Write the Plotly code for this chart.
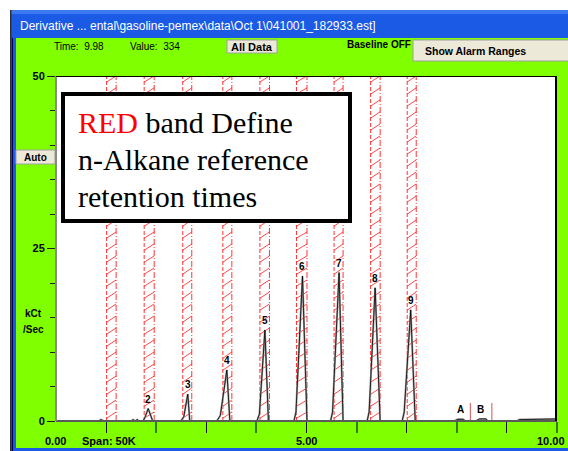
import plotly.graph_objects as go

W, H = 568, 451
GREEN = '#80FF00'
BLUE = '#1A5AE4'
BTN = '#ECE9D8'

# ---------------- data ----------------
band_lo = [1.01, 1.76, 2.53, 3.33, 4.07, 4.80, 5.55, 6.28, 7.01]
band_hi = [1.20, 1.96, 2.71, 3.51, 4.26, 5.01, 5.73, 6.47, 7.19]

trace_time = [0.00, 0.85, 0.90, 0.95, 1.50, 1.54, 1.58, 1.62, 1.66,
              1.74, 1.78, 1.84, 1.93,
              2.49, 2.55, 2.63, 2.67,
              3.21, 3.28, 3.41, 3.47,
              4.01, 4.06, 4.17, 4.24,
              4.75, 4.79, 4.92, 5.01,
              5.48, 5.52, 5.65, 5.73,
              6.21, 6.25, 6.37, 6.47,
              6.91, 6.95, 7.08, 7.17,
              7.95, 8.02, 8.12, 8.18, 8.38, 8.45, 8.58, 8.62,
              9.20, 9.25, 9.60, 9.70, 10.0]
trace_signal = [0, 0, 0.2, 0, 0, 0.2, 0, 0.2, 0,
                0, 0.6, 1.8, 0,
                0, 0.6, 3.9, 0,
                0, 0.8, 7.4, 0,
                0, 1.0, 13.2, 0,
                0, 1.3, 21.0, 0,
                0, 1.3, 21.5, 0,
                0, 1.3, 19.3, 0,
                0, 1.3, 16.1, 0,
                0, 0.25, 0.25, 0, 0, 0.3, 0.3, 0,
                0, 0.2, 0.2, 0.3, 0.3]

peak_labels = ['2', '3', '4', '5', '6', '7', '8', '9']
peak_time = [1.84, 2.63, 3.41, 4.17, 4.92, 5.65, 6.37, 7.08]
peak_height = [1.8, 3.9, 7.4, 13.2, 21.0, 21.5, 19.3, 16.1]

alarm_labels = ['A', 'B']
alarm_label_time = [8.07, 8.48]
alarm_line_time = [8.27, 8.70]
alarm_line_height = 2.6

y_tickvals = [0, 25, 50]
y_ticktext = ['0', '25', '50']
x_label_vals = [0, 5]
x_label_text = ['0.00', '5.00']
x_last_label = '10.00'

title_text = 'Derivative ... ental\\gasoline-pemex\\data\\Oct 1\\041001_182933.est]'


def px(x):
    return x / W


def py(y):
    return 1 - y / H


fig = go.Figure()

# red reference bands
lx, ly, rx, ry, hx, hy = [], [], [], [], [], []
for lo, hi in zip(band_lo, band_hi):
    lx += [lo, lo, None]
    ly += [0, 50, None]
    rx += [hi, hi, None]
    ry += [0, 50, None]
    y = 0.4
    while y < 49.2:
        hx += [lo, hi, None]
        hy += [y, y + 0.9, None]
        y += 1.74
fig.add_trace(go.Scatter(x=hx, y=hy, mode='lines', hoverinfo='skip',
                         line=dict(color='rgba(255,40,40,0.85)', width=1)))
fig.add_trace(go.Scatter(x=lx, y=ly, mode='lines', hoverinfo='skip',
                         line=dict(color='rgba(255,30,30,0.9)', width=1, dash='4px,2px')))
fig.add_trace(go.Scatter(x=rx, y=ry, mode='lines', hoverinfo='skip',
                         line=dict(color='rgba(255,30,30,0.9)', width=1, dash='6px,2px,1px,2px')))

# alarm range markers
ax_, ay_ = [], []
for t in alarm_line_time:
    ax_ += [t, t, None]
    ay_ += [0, alarm_line_height, None]
fig.add_trace(go.Scatter(x=ax_, y=ay_, mode='lines', hoverinfo='skip',
                         line=dict(color='#D05050', width=1)))

# chromatogram
fig.add_trace(go.Scatter(x=trace_time, y=trace_signal, mode='lines',
                         line=dict(color='#A0A0A0', width=2), hoverinfo='skip'))
fig.add_trace(go.Scatter(x=trace_time, y=trace_signal, mode='lines',
                         line=dict(color='#000000', width=0.8)))

shapes = []
# white outside + window frame
shapes.append(dict(type='rect', xref='paper', yref='paper', x0=0, x1=1, y0=py(10), y1=1,
                   fillcolor='white', line_width=0, layer='below'))
shapes.append(dict(type='rect', xref='paper', yref='paper', x0=px(10), x1=1, y0=py(38), y1=py(10),
                   fillcolor=BLUE, line_width=0, layer='below'))
shapes.append(dict(type='rect', xref='paper', yref='paper', x0=px(10), x1=1, y0=py(14), y1=py(10),
                   fillcolor='#3C78F0', line_width=0, layer='below'))
shapes.append(dict(type='rect', xref='paper', yref='paper', x0=px(10), x1=px(11.5), y0=0, y1=py(10),
                   fillcolor='#303030', line_width=0, layer='below'))
shapes.append(dict(type='rect', xref='paper', yref='paper', x0=px(11.5), x1=px(13), y0=0, y1=py(38),
                   fillcolor='#000060', line_width=0, layer='below'))
shapes.append(dict(type='rect', xref='paper', yref='paper', x0=px(13), x1=px(16), y0=0, y1=py(38),
                   fillcolor=BLUE, line_width=0, layer='below'))
shapes.append(dict(type='rect', xref='paper', yref='paper', x0=px(13), x1=1, y0=0, y1=py(448),
                   fillcolor=BLUE, line_width=0, layer='below'))
shapes.append(dict(type='rect', xref='paper', yref='paper', x0=0, x1=px(10), y0=0, y1=py(10),
                   fillcolor='white', line_width=0, layer='below'))
# buttons
for (x0, y0, x1, y1) in [(227, 40, 277, 53), (413, 40, 570, 61), (16, 150, 55, 164)]:
    shapes.append(dict(type='rect', xref='paper', yref='paper', x0=px(x0), x1=px(x1), y0=py(y1), y1=py(y0),
                       fillcolor=BTN, line=dict(color='#A0A0A0', width=1), layer='below'))
# plot borders
shapes.append(dict(type='line', xref='paper', yref='paper', x0=px(56), x1=px(557), y0=py(421), y1=py(421),
                   line=dict(color='#5A5A5A', width=2)))
shapes.append(dict(type='line', xref='paper', yref='paper', x0=px(56), x1=px(56), y0=py(421), y1=py(76),
                   line=dict(color='#8A8A8A', width=2)))
shapes.append(dict(type='line', xref='paper', yref='paper', x0=px(56), x1=px(557), y0=py(76.5), y1=py(76.5),
                   line=dict(color='#000000', width=1)))
shapes.append(dict(type='line', xref='paper', yref='paper', x0=px(556), x1=px(556), y0=py(421), y1=py(76),
                   line=dict(color='#000000', width=2)))
# annotation box
shapes.append(dict(type='rect', xref='paper', yref='paper', x0=px(63), x1=px(350), y0=py(221), y1=py(94),
                   fillcolor='white', line=dict(color='black', width=4), layer='above'))
fig.update_layout(shapes=shapes)

ann = []
ui = 'Liberation Sans'
ann.append(dict(text=title_text, x=px(18), y=py(26), xref='paper', yref='paper', xanchor='left',
                yanchor='middle', showarrow=False, font=dict(family=ui, size=12, color='white')))
ann.append(dict(text='Time:  9.98', x=px(52), y=py(46), xref='paper', yref='paper', xanchor='left',
                yanchor='middle', showarrow=False, font=dict(family=ui, size=10, color='black')))
ann.append(dict(text='Value:  334', x=px(128), y=py(46), xref='paper', yref='paper', xanchor='left',
                yanchor='middle', showarrow=False, font=dict(family=ui, size=10, color='black')))
ann.append(dict(text='<b>All Data</b>', x=px(252), y=py(46.5), xref='paper', yref='paper', xanchor='center',
                yanchor='middle', showarrow=False, font=dict(family=ui, size=11, color='black')))
ann.append(dict(text='<b>Baseline OFF</b>', x=px(345), y=py(45), xref='paper', yref='paper', xanchor='left',
                yanchor='middle', showarrow=False, font=dict(family=ui, size=10, color='black')))
ann.append(dict(text='<b>Show Alarm Ranges</b>', x=px(423), y=py(51), xref='paper', yref='paper', xanchor='left',
                yanchor='middle', showarrow=False, font=dict(family=ui, size=10.5, color='black')))
ann.append(dict(text='<b>Auto</b>', x=px(35.5), y=py(157), xref='paper', yref='paper', xanchor='center',
                yanchor='middle', showarrow=False, font=dict(family=ui, size=10, color='black')))
ann.append(dict(text='<b>kCt</b>', x=px(33), y=py(313), xref='paper', yref='paper', xanchor='center',
                yanchor='middle', showarrow=False, font=dict(family=ui, size=10, color='black')))
ann.append(dict(text='<b>/Sec</b>', x=px(33), y=py(329), xref='paper', yref='paper', xanchor='center',
                yanchor='middle', showarrow=False, font=dict(family=ui, size=10, color='black')))
ann.append(dict(text='<b>Span: 50K</b>', x=px(80), y=py(441), xref='paper', yref='paper', xanchor='left',
                yanchor='middle', showarrow=False, font=dict(family=ui, size=11, color='black')))
for v, t in zip(x_label_vals, x_label_text):
    ann.append(dict(text='<b>' + t + '</b>', x=v, y=py(441), xref='x', yref='paper', xanchor='center',
                    yanchor='middle', showarrow=False, font=dict(family=ui, size=11, color='black')))
ann.append(dict(text='<b>' + x_last_label + '</b>', x=px(567), y=py(441), xref='paper', yref='paper',
                xanchor='right', yanchor='middle', showarrow=False,
                font=dict(family=ui, size=11, color='black')))
for lab, t, h in zip(peak_labels, peak_time, peak_height):
    ann.append(dict(text='<b>' + lab + '</b>', x=t, y=h, xref='x', yref='y', xanchor='center',
                    yanchor='bottom', yshift=2, showarrow=False, font=dict(family=ui, size=10, color='black')))
for lab, t in zip(alarm_labels, alarm_label_time):
    ann.append(dict(text='<b>' + lab + '</b>', x=t, y=1.6, xref='x', yref='y', xanchor='center',
                    yanchor='middle', showarrow=False, font=dict(family=ui, size=10, color='black')))
serif = 'Liberation Serif'
box_lines = ["<span style='color:#FF0000'>RED</span> band Define",
             'n-Alkane reference',
             'retention times']
for i, line in enumerate(box_lines):
    ann.append(dict(text=line, x=px(76), y=py(122 + 37.5 * i), xref='paper', yref='paper', xanchor='left',
                    yanchor='middle', showarrow=False, font=dict(family=serif, size=30, color='black')))

fig.update_layout(
    template='none',
    annotations=ann,
    width=W, height=H,
    margin=dict(l=0, r=0, t=0, b=0, pad=0, autoexpand=False),
    paper_bgcolor=GREEN, plot_bgcolor='white',
    showlegend=False,
    hovermode=False,
    xaxis=dict(domain=[px(56), px(557)], range=[0, 10], showgrid=False, zeroline=False,
               automargin=False, fixedrange=True,
               showline=False, showticklabels=False,
               tickmode='array', tickvals=[1, 3, 5, 7, 9], ticks='outside', ticklen=11,
               tickcolor='#101010', tickwidth=1,
               minor=dict(tickmode='array', tickvals=[2, 4, 6, 8, 10], ticks='outside', ticklen=11,
                          tickcolor='#3A7A00', tickwidth=2)),
    yaxis=dict(domain=[py(421), py(76)], range=[0, 50], showgrid=False, zeroline=False,
               automargin=False, fixedrange=True,
               showline=False, tickmode='array', tickvals=y_tickvals, ticktext=y_ticktext,
               ticks='outside', ticklen=8, tickcolor='#202020', tickwidth=1,
               tickfont=dict(family=ui, size=11, color='black', weight='bold'),
               minor=dict(tickmode='linear', tick0=0, dtick=5, ticks='outside', ticklen=5,
                          tickcolor='#202020', tickwidth=1)),
)

fig.write_html('out.html', config={'displayModeBar': False, 'staticPlot': False},
               post_script="document.body.style.margin='0';document.body.style.overflow='hidden';")
